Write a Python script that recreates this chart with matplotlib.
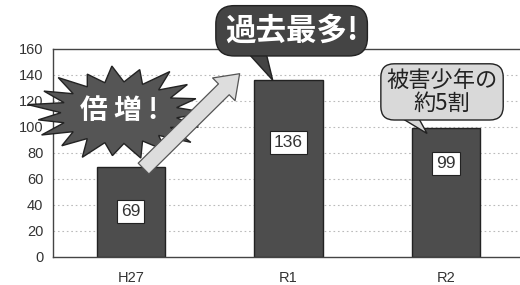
import numpy as np
import matplotlib
matplotlib.use("Agg")
import matplotlib.pyplot as plt
from matplotlib.patches import Polygon

plt.rcParams['font.family'] = ['Liberation Sans', 'Noto Sans CJK JP', 'DejaVu Sans']

categories = ["H27", "R1", "R2"]
values = [69, 136, 99]
yticks = [0, 20, 40, 60, 80, 100, 120, 140, 160]

fig = plt.figure(figsize=(5.2, 2.85), dpi=100)
ax = fig.add_axes([53/520, 28/285, 1 - 53/520, 208/285])

x = np.arange(len(categories))
ax.bar(x, values, width=0.435, color='#4d4d4d', edgecolor='#222222', linewidth=1.0, zorder=2)

ax.set_xlim(-0.495, 2.47)
ax.set_ylim(0, 160)
ax.set_yticks(yticks)
ax.set_xticks(x)
ax.set_xticklabels(categories)
ax.tick_params(axis='both', length=0, labelsize=10.5, colors='#333333')
ax.tick_params(axis='x', pad=10)
ax.tick_params(axis='y', pad=7)
for t in ax.get_yticks()[1:-1]:
    ax.axhline(t, color='#bbbbbb', lw=0.8, ls=(0, (1.5, 2.5)), zorder=1)
for s in ['left', 'bottom', 'top']:
    ax.spines[s].set_color('#444444')
    ax.spines[s].set_linewidth(1.0)
ax.spines['right'].set_visible(False)

# value labels
label_y = [35, 88, 72]
for xi, v, ly in zip(x, values, label_y):
    ax.text(xi, ly, str(v), ha='center', va='center', fontsize=12.5, color='#333333',
            bbox=dict(boxstyle='square,pad=0.22', fc='white', ec='#222222', lw=0.8), zorder=5)

# starburst "倍増!"
cx, cy = -0.075, 111
rx, ry = 0.56, 36
n = 19
ang = np.linspace(0, 2*np.pi, 2*n, endpoint=False)
rad = np.where(np.arange(2*n) % 2 == 0, 1.0, 0.66)
jit = np.ones(2*n)
jit[::2] = [1.0, 0.92, 0.98, 1.05, 0.95, 1.0, 0.9, 1.02, 0.97, 1.05,
            0.93, 1.0, 0.96, 1.04, 0.92, 1.0, 0.97, 1.03, 0.95]
px = cx + rx * rad * jit * np.cos(ang)
py = cy + ry * rad * jit * np.sin(ang)
star = Polygon(np.column_stack([px, py]), closed=True, fc='#555555', ec='#222222', lw=1.0,
               zorder=6, clip_on=False)
ax.add_patch(star)
ax.text(cx + 0.0, cy + 1, "倍 増 !", ha='center', va='center', fontsize=20, color='white',
        fontweight='bold', family=['Noto Sans CJK JP'], zorder=7)

# arrow
ax.annotate("", xy=(0.69, 141), xytext=(0.08, 68),
            arrowprops=dict(arrowstyle='simple,head_width=2.3,head_length=1.6,tail_width=1.1',
                            fc='#dddddd', ec='#555555', lw=0.9, shrinkA=0, shrinkB=0),
            zorder=8, annotation_clip=False)

# callout "過去最多!"
ax.add_patch(Polygon([[0.75, 156], [0.86, 156], [0.9, 136]], closed=True, fc='#444444',
                     ec='#222222', lw=1.0, zorder=7, clip_on=False))
ax.text(1.02, 174, "過去最多!", ha='center', va='center', fontsize=22, color='white',
        fontweight='bold', family=['Noto Sans CJK JP'], zorder=8, clip_on=False,
        bbox=dict(boxstyle='round,pad=0.3,rounding_size=0.6', fc='#444444', ec='#222222', lw=1.0))

# callout "被害少年の約5割"
ax.add_patch(Polygon([[1.73, 106], [1.83, 106], [1.88, 95]], closed=True, fc='#d9d9d9',
                     ec='#222222', lw=1.0, zorder=7, clip_on=False))
ax.text(1.975, 127, "被害少年の\n約5割", ha='center', va='center', fontsize=16, color='#222222',
        linespacing=0.95, family=['Noto Sans CJK JP'], zorder=8, clip_on=False,
        bbox=dict(boxstyle='round,pad=0.25,rounding_size=0.6', fc='#d9d9d9', ec='#222222', lw=1.0))

fig.savefig("out.png", dpi=100)
